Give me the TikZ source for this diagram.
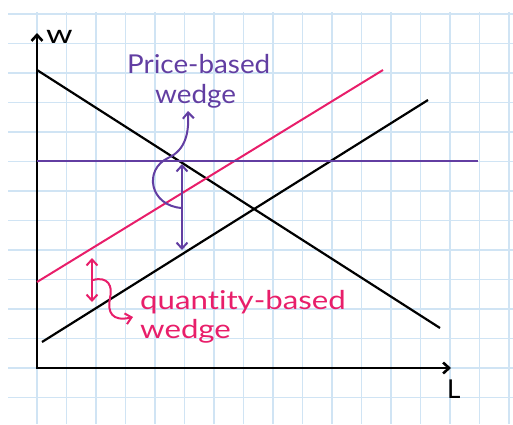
\documentclass[tikz,border=0pt]{standalone}
\usepackage{fontspec}
\setmainfont[Ligatures=NoCommon]{Lato}
\usetikzlibrary{positioning}
\usetikzlibrary{arrows.meta}

\definecolor{gridblue}{RGB}{208,228,244}
\definecolor{wedgepink}{RGB}{232,30,106}
\definecolor{wedgepurple}{RGB}{98,62,162}

\begin{document}
\begin{tikzpicture}[x=1pt,y=-1pt,>={Straight Barb[length=6pt,width=11pt]},
        hand/.style={font=\fontsize{26}{30}\selectfont,inner sep=0pt,anchor=base west}]
        \useasboundingbox (0,0) rectangle (513,424);
        % squared paper
        \foreach \k in {0,...,16}
            \draw[gridblue,line width=1.3pt] ({37+29.5*\k},12) -- ({37+29.5*\k},424);
        \foreach \k in {-1,...,12}
            \draw[gridblue,line width=1.3pt] (8,{368-29.5*\k}) -- (513,{368-29.5*\k});

        \coordinate (O) at (37,368);
        \coordinate (wtop) at (37,33);
        \coordinate (Lend) at (451,368);
        \draw[line width=2.6pt,<->,line join=miter] (wtop) -- (O) -- (Lend);
        \node[hand] (wlab) at (46,43) {\scalebox{1.3}[1]{w}};
        \node[hand] (Llab) at (447,398) {L};

        % demand, supply and taxed supply
        \coordinate (dtop) at (37,70);
        \coordinate (dbot) at (440,328);
        \coordinate (sbot) at (42,342);
        \coordinate (stop) at (428,100);
        \coordinate (tbot) at (37,282);
        \coordinate (ttop) at (383,70);
        \draw[line width=2.2pt] (dtop) -- (dbot);
        \draw[line width=2.2pt] (sbot) -- (stop);
        \draw[wedgepink,line width=2pt] (tbot) -- (ttop);
        \draw[wedgepurple,line width=2pt] (37,161) -- (478,161);

        % price-based wedge
        \coordinate (pwu) at (182,164);
        \coordinate (pwl) at (182,250);
        \draw[wedgepurple,line width=2pt,<->] (pwu) -- (pwl);
        \draw[wedgepurple,line width=2pt,->] (182,208) .. controls (150,206) and (143,170) .. (168,158)
            .. controls (186,150) and (189,132) .. (188,111);
        \node[hand,text=wedgepurple] (pbased) at (127,73) {\scalebox{1.07}[1]{Price-based}};
        \node[hand,text=wedgepurple,below=30pt of pbased.base west,anchor=base west,xshift=28pt] (pwedge) {\scalebox{1.07}[1]{wedge}};

        % quantity-based wedge
        \coordinate (qwu) at (92,258);
        \coordinate (qwl) at (92,302);
        \draw[wedgepink,line width=2pt,<->] (qwu) -- (qwl);
        \draw[wedgepink,line width=2pt,->] (93,280) .. controls (108,276) and (113,286) .. (110,298)
            .. controls (107,312) and (112,322) .. (133,317);
        \node[hand,text=wedgepink] (qbased) at (140,309) {\scalebox{1.2}[1]{quantity-based}};
        \node[hand,text=wedgepink,below=29pt of qbased.base west,anchor=base west] (qwedge) {\scalebox{1.2}[1]{wedge}};
\end{tikzpicture}
\end{document}
